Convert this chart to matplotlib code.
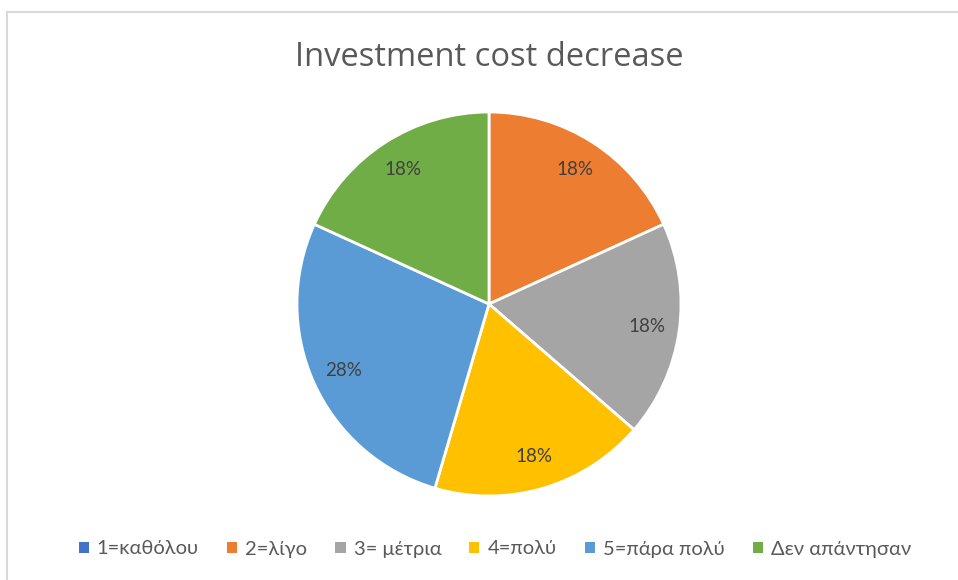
import matplotlib
matplotlib.use("Agg")
import matplotlib.pyplot as plt
from matplotlib.lines import Line2D
from matplotlib.patches import Patch
import numpy as np

categories = ["1=καθόλου", "2=λίγο", "3= μέτρια", "4=πολύ", "5=πάρα πολύ", "Δεν απάντησαν"]
values = [0, 2, 2, 2, 3, 2]
pct_labels = ["", "18%", "18%", "18%", "28%", "18%"]
colors = ["#4472C4", "#ED7D31", "#A5A5A5", "#FFC000", "#5B9BD5", "#70AD47"]
title = "Investment cost decrease"

plt.rcParams['font.family'] = ['Lato', 'DejaVu Sans']

W, H = 958, 580
fig = plt.figure(figsize=(W/100, H/100), dpi=100)

# chart border (top and left visible)
fig.add_artist(Line2D([7/W, 1], [1-12/H, 1-12/H], transform=fig.transFigure, color="#D9D9D9", lw=1.5))
fig.add_artist(Line2D([7/W, 7/W], [0, 1-12/H], transform=fig.transFigure, color="#D9D9D9", lw=1.5))

cx, cy, r = 489, 304, 192
ax = fig.add_axes([(cx-r)/W, 1-(cy+r)/H, 2*r/W, 2*r/H])
total = sum(values)

ax.pie(values, colors=colors, startangle=90, counterclock=False,
       wedgeprops=dict(edgecolor="white", linewidth=2), radius=1.0)
ang = 90.0
for v, lab in zip(values, pct_labels):
    span = 360.0 * v / total
    if v > 0:
        mid = np.deg2rad(ang - span/2)
        ax.text(0.83*np.cos(mid), 0.83*np.sin(mid), lab,
                ha="center", va="center", fontsize=13.5, color="#404040")
    ang -= span
ax.set_xlim(-1, 1)
ax.set_ylim(-1, 1)
ax.set_aspect("equal")
ax.axis("off")

fig.text(489/W, 1-58/H, title, ha="center", va="center", fontsize=23.5,
         color="#595959", family=["Open Sans", "DejaVu Sans"])

handles = [Patch(facecolor=c, edgecolor="none") for c in colors]
fig.legend(handles, categories, loc="center", bbox_to_anchor=(495/W, 1-549/H), ncol=6,
           frameon=False, fontsize=14.5, labelcolor="#595959", handlelength=0.5, handleheight=0.5,
           handletextpad=0.4, columnspacing=1.4)

fig.savefig("out.png", dpi=100, facecolor="white")
